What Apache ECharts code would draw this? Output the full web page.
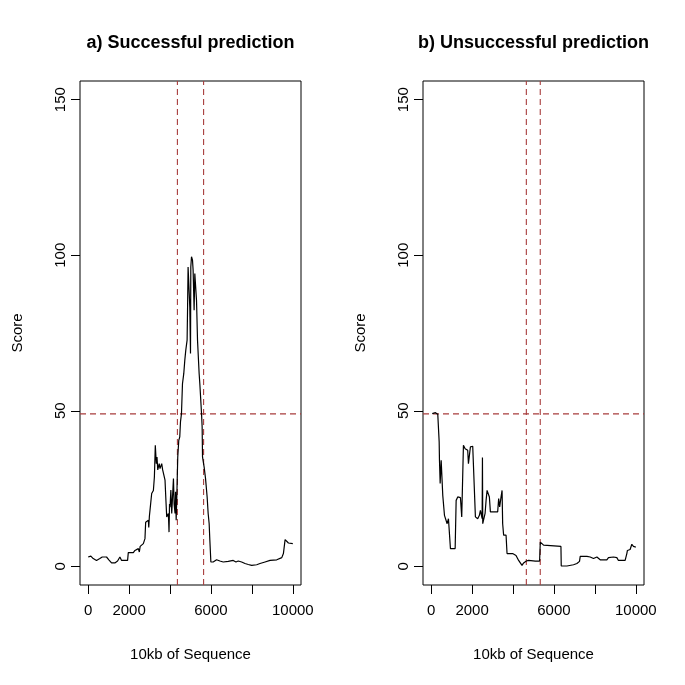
<!DOCTYPE html>
<html>
<head>
<meta charset="utf-8">
<script src="https://cdn.jsdelivr.net/npm/echarts@6/dist/echarts.min.js"></script>
<style>html,body{margin:0;padding:0;background:#fff}#c{width:685px;height:685px}</style>
</head>
<body>
<div id="c"></div>
<script>
// ---- data ----
var titles = ['a) Successful prediction', 'b) Unsuccessful prediction'];
var xName = '10kb of Sequence';
var yName = 'Score';
var xTicks = [0, 2000, 4000, 6000, 8000, 10000];
var xTickLabels = [0, 2000, 6000, 10000];
var yTicks = [0, 50, 100, 150];
var xRange = [-400, 10400];
var yRange = [-6, 156];
var threshold = 49;
var successBounds = [4360, 5640];
var failBounds = [4650, 5330];

var successScores = [[0,3.0],[130,3.3],[245,2.5],[407,1.9],[570,2.5],[686,3.0],[897,3.0],[1010,2.1],[1142,1.1],[1304,1.1],[1436,1.7],[1550,3.0],[1632,1.9],[1926,1.9],[1960,4.4],[2206,4.4],[2285,5.1],[2450,5.7],[2500,4.6],[2540,6.4],[2580,6.8],[2696,7.3],[2775,8.9],[2809,14.2],[2880,14.5],[2941,14.8],[2960,12.5],[2990,16],[3020,18],[3103,23.4],[3186,24.4],[3235,28.7],[3280,38.9],[3299,39],[3330,33],[3363,35.1],[3400,31],[3431,30.9],[3470,33],[3510,31.4],[3593,33],[3640,31],[3676,30.9],[3755,27.7],[3800,21],[3838,15.9],[3887,15.3],[3920,17],[3951,11.0],[3975,20],[4000,19],[4040,24.5],[4083,17],[4120,22],[4167,28.2],[4200,20],[4245,17],[4270,24],[4300,14.8],[4330,22],[4377,35.1],[4427,40.5],[4475,41.6],[4510,46.4],[4559,49.1],[4608,58.7],[4672,62],[4721,66.2],[4770,69.5],[4834,72.7],[4853,81.3],[4882,96.2],[4931,88.7],[4966,83.4],[5000,68.4],[5015,96.2],[5049,99.5],[5070,100],[5098,98.4],[5128,95.2],[5177,82.3],[5211,94.1],[5260,94.1],[5294,85.5],[5343,72.7],[5422,62],[5456,58.7],[5539,49.1],[5569,44.8],[5588,35.1],[5667,31.9],[5735,28.2],[5784,27.7],[5813,22.3],[5863,17],[5912,13.7],[5946,8.4],[5995,1.4],[6108,1.4],[6191,1.4],[6275,2.1],[6353,1.6],[6436,1.7],[6598,1.4],[6843,1.6],[7088,1.9],[7137,2.5],[7221,1.4],[7333,1.7],[7500,1.4],[7662,0.9],[7824,0.6],[7990,0.3],[8235,0.5],[8397,0.9],[8642,1.4],[8887,1.9],[8971,2.3],[9216,2.1],[9461,2.8],[9540,4.1],[9623,8.6],[9657,8.6],[9706,8.1],[9785,7.5],[9868,7.8],[10000,7.3]];

var failScores = [[50,49.1],[120,49.3],[210,49.4],[322,48.9],[371,48.6],[390,40],[405,34.1],[439,26.6],[454,26.6],[488,34.1],[537,33.5],[566,22.8],[615,22.8],[649,16.4],[732,15.9],[780,13.7],[844,15.3],[893,15.3],[941,5.7],[1171,5.7],[1220,21.2],[1298,22.3],[1429,22.1],[1493,15.9],[1541,15.9],[1576,38.9],[1659,37.8],[1708,37.3],[1756,38.4],[1785,37.3],[1820,33],[1868,32.5],[1917,38.4],[2030,38.6],[2112,38.4],[2161,15.9],[2244,15.9],[2273,15.3],[2356,16.4],[2405,18],[2490,15.3],[2505,35],[2520,13.7],[2566,13.7],[2634,17],[2683,21.2],[2732,24.4],[2795,23.9],[2844,22.3],[2893,17.5],[3088,17.5],[3171,17],[3249,17.5],[3298,21.8],[3346,19.1],[3415,22.3],[3464,24.4],[3493,13.7],[3541,10],[3659,10],[3707,4.1],[3980,4.1],[4146,3.5],[4225,3.5],[4273,1.9],[4356,1.4],[4439,0.3],[4517,1.1],[4551,0.9],[4649,1.7],[4683,1.9],[4761,1.9],[4844,1.6],[5088,1.7],[5298,1.7],[5332,7.8],[5380,7.6],[5493,6.8],[5576,6.8],[6341,6.4],[6356,0.1],[6634,0.1],[6956,0.5],[7122,0.9],[7249,1.6],[7283,3.2],[7610,3.2],[7771,3],[7854,2.8],[7932,2.5],[8098,3],[8176,3.5],[8259,2.1],[8420,2.1],[8585,2.1],[8664,2.8],[8746,2.8],[8908,3],[9073,2.8],[9151,1.9],[9478,1.9],[9561,4.1],[9590,5.1],[9639,5.7],[9722,5.4],[9805,7.1],[9883,6.4],[9966,6],[10000,6.2]];

// ---- chart ----
var FONT = '"Liberation Sans", Arial, Helvetica, sans-serif';
var RED = '#a83c3c';
var grids = [
  {left: 80, top: 81, width: 221, height: 504},
  {left: 423, top: 81, width: 221, height: 504}
];
grids.forEach(function (g) { g.show = true; g.borderColor = '#000'; g.borderWidth = 1; g.backgroundColor = 'transparent'; });

function plain(v) { return String(v); }

function xAxisFor(i) {
  return {
    type: 'value', gridIndex: i, min: xRange[0], max: xRange[1],
    name: xName, nameLocation: 'middle', nameGap: 62,
    nameTextStyle: {fontFamily: FONT, fontSize: 15, color: '#000'},
    axisLine: {show: false, onZero: false},
    splitLine: {show: false},
    axisTick: {show: true, length: 9, customValues: xTicks, lineStyle: {color: '#000'}},
    axisLabel: {show: true, customValues: xTickLabels, formatter: plain, margin: 18, fontFamily: FONT, fontSize: 15, color: '#000'}
  };
}
function yAxisFor(i) {
  return {
    type: 'value', gridIndex: i, min: yRange[0], max: yRange[1],
    name: yName, nameLocation: 'middle', nameGap: 55, nameRotate: 90,
    nameTextStyle: {fontFamily: FONT, fontSize: 15, color: '#000'},
    axisLine: {show: false, onZero: false},
    splitLine: {show: false},
    axisTick: {show: true, length: 9, customValues: yTicks, lineStyle: {color: '#000'}},
    axisLabel: {show: true, customValues: yTicks, formatter: plain, rotate: 90, margin: 12, fontFamily: FONT, fontSize: 15, color: '#000'}
  };
}
function refSeries(i, pts) {
  return {
    type: 'line', xAxisIndex: i, yAxisIndex: i, data: pts, symbol: 'none', silent: true,
    lineStyle: {color: RED, type: [6, 4], width: 1.1}, itemStyle: {color: RED}, z: 1
  };
}
function refLinesFor(i, bounds) {
  return [
    refSeries(i, [[bounds[0], yRange[0]], [bounds[0], yRange[1]]]),
    refSeries(i, [[bounds[1], yRange[0]], [bounds[1], yRange[1]]]),
    refSeries(i, [[xRange[0], threshold], [xRange[1], threshold]])
  ];
}
function lineSeries(i, data) {
  return {
    type: 'line', xAxisIndex: i, yAxisIndex: i, data: data, z: 3,
    symbol: 'none', lineStyle: {color: '#000', width: 1.2}, itemStyle: {color: '#000'}, silent: true
  };
}

var chart = echarts.init(document.getElementById('c'), null, {renderer: 'canvas'});
chart.setOption({
  animation: false,
  backgroundColor: '#fff',
  grid: grids,
  xAxis: [xAxisFor(0), xAxisFor(1)],
  yAxis: [yAxisFor(0), yAxisFor(1)],
  graphic: [
    {type: 'text', x: 190.5, y: 43, style: {text: titles[0], textAlign: 'center', textVerticalAlign: 'middle', font: 'bold 18px ' + FONT, fill: '#000'}},
    {type: 'text', x: 533.5, y: 43, style: {text: titles[1], textAlign: 'center', textVerticalAlign: 'middle', font: 'bold 18px ' + FONT, fill: '#000'}}
  ],
  series: [].concat(
    refLinesFor(0, successBounds),
    refLinesFor(1, failBounds),
    [lineSeries(0, successScores), lineSeries(1, failScores)]
  )
});
</script>
</body>
</html>
